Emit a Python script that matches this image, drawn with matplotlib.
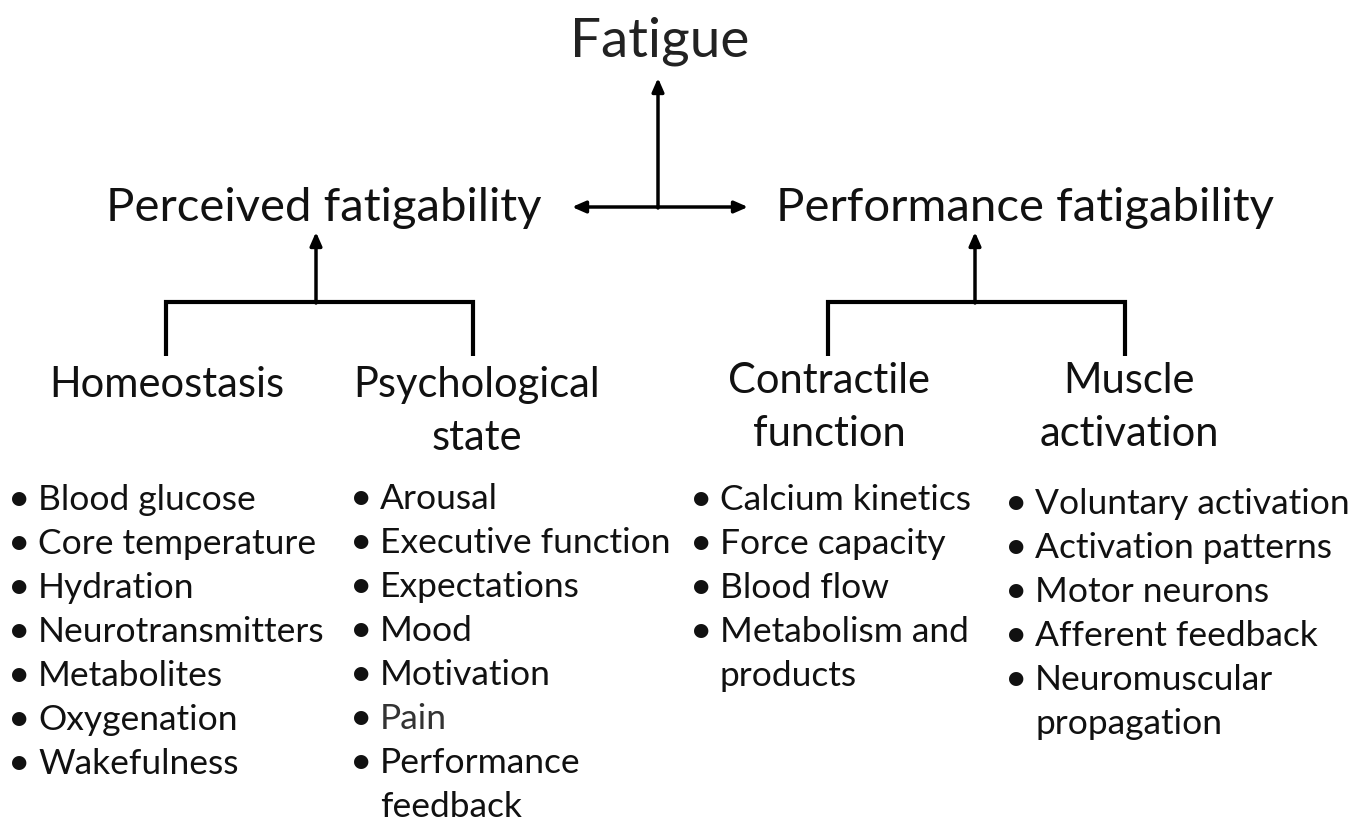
import matplotlib
matplotlib.use("Agg")
import matplotlib.pyplot as plt

plt.rcParams["font.family"] = ["Lato", "DejaVu Sans"]

# text content
top_label = "Fatigue"
mid_labels = ["Perceived fatigability", "Performance fatigability"]
sub_labels = ["Homeostasis", "Psychological\nstate", "Contractile\nfunction", "Muscle\nactivation"]

homeostasis_items = ["Blood glucose", "Core temperature", "Hydration", "Neurotransmitters",
                     "Metabolites", "Oxygenation", "Wakefulness"]
psych_items = ["Arousal", "Executive function", "Expectations", "Mood", "Motivation",
               "Pain", "Performance\nfeedback"]
contractile_items = ["Calcium kinetics", "Force capacity", "Blood flow", "Metabolism and\nproducts"]
activation_items = ["Voluntary activation", "Activation patterns", "Motor neurons",
                    "Afferent feedback", "Neuromuscular\npropagation"]

INK = "#111111"

fig = plt.figure(figsize=(13.6, 8.25), dpi=100)
ax = fig.add_axes([0, 0, 1, 1])
ax.set_xlim(0, 1360)
ax.set_ylim(825, 0)
ax.axis("off")

# titles
ax.text(660, 57, top_label, fontsize=39.5, ha="center", va="baseline", color="#222222")
ax.text(324, 221, mid_labels[0], fontsize=34, ha="center", va="baseline", color=INK)
ax.text(1025, 221, mid_labels[1], fontsize=34, ha="center", va="baseline", color=INK)

# arrows
arw = dict(arrowstyle="-|>,head_length=0.8,head_width=0.35", color="black", lw=2.5,
           shrinkA=0, shrinkB=0)
ax.annotate("", xy=(658, 78), xytext=(658, 208), arrowprops=arw)
ax.annotate("", xy=(572, 207), xytext=(658, 207), arrowprops=arw)
ax.annotate("", xy=(748, 207), xytext=(658, 207), arrowprops=arw)
ax.annotate("", xy=(316, 232), xytext=(316, 303), arrowprops=arw)
ax.annotate("", xy=(975, 232), xytext=(975, 303), arrowprops=arw)

# brackets
for xl, xr in [(166, 473), (828, 1125)]:
    ax.plot([xl, xl, xr, xr], [356, 302, 302, 356], color="black", lw=3,
            solid_joinstyle="miter", solid_capstyle="butt")

# sub headings
sub_pos = [(167, 397), (477, 397), (829, 393), (1129, 393)]
for lab, (x, y) in zip(sub_labels, sub_pos):
    for i, line in enumerate(lab.split("\n")):
        ax.text(x, y + i * 53, line, fontsize=30, ha="center", va="baseline", color=INK)

# bullet lists
columns = [
    (homeostasis_items, 12, 510),
    (psych_items, 354, 509),
    (contractile_items, 694, 510),
    (activation_items, 1009, 514),
]
step = 44
for items, x0, y0 in columns:
    k = 0
    for item in items:
        col = "#333333" if item == "Pain" else INK
        for j, line in enumerate(item.split("\n")):
            y = y0 + k * step
            if j == 0:
                ax.text(x0 - 4, y, "\u2022", fontsize=28, ha="left", va="baseline", color=INK)
            ax.text(x0 + 26, y, line, fontsize=25.5, ha="left", va="baseline", color=col)
            k += 1

fig.savefig("out.png", dpi=100, facecolor="white")
